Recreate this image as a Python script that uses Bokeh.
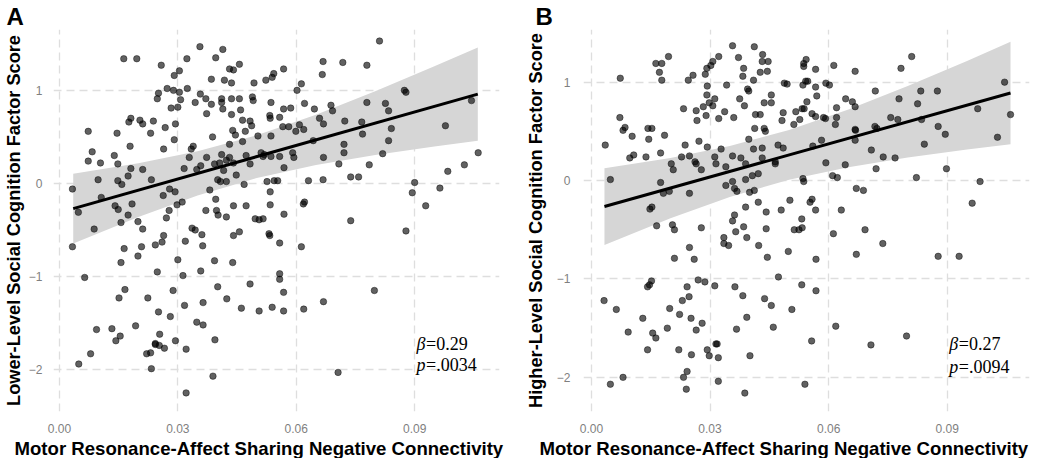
from bokeh.plotting import figure
from bokeh.layouts import row
from bokeh.models import Label, NumeralTickFormatter, FixedTicker, Range1d, Title
from bokeh.embed import file_html
from bokeh.resources import INLINE

x_ticks = [0.0, 0.03, 0.06, 0.09]
y_ticks = [-2, -1, 0, 1]
x_title = "Motor Resonance-Affect Sharing Negative Connectivity"
a_ylabel = "Lower-Level Social Cognition Factor Score"
b_ylabel = "Higher-Level Social Cognition Factor Score"

# Panel A observations (connectivity, factor score)
a_points = [
    (0.0356,1.47),(0.0414,1.44),(0.0163,1.34),(0.0196,1.34),(0.0323,1.34),(0.0396,1.35),(0.0258,1.27),(0.0304,1.21),
    (0.0291,1.16),(0.0431,1.23),(0.0441,1.22),(0.0456,1.28),(0.0385,1.12),(0.0418,1.11),(0.0436,1.08),(0.0493,1.08),
    (0.0523,1.11),(0.0251,0.97),(0.0273,1.02),(0.0289,1.00),(0.0304,0.98),(0.0324,1.02),(0.0248,0.91),(0.0307,0.90),
    (0.0357,0.96),(0.0371,0.91),(0.0385,0.85),(0.0411,0.91),(0.0411,0.87),(0.0436,0.91),(0.0456,0.91),(0.0489,0.93),
    (0.0491,0.89),(0.0344,0.87),(0.0283,0.81),(0.0300,0.82),(0.0373,0.75),(0.0414,0.80),(0.0436,0.74),(0.0459,0.79),
    (0.0181,0.70),(0.0176,0.66),(0.0204,0.68),(0.0211,0.64),(0.0238,0.67),(0.0464,0.68),(0.0483,0.67),(0.0487,0.62),
    (0.0073,0.56),(0.0146,0.54),(0.0231,0.54),(0.0268,0.60),(0.0294,0.64),(0.0439,0.57),(0.0446,0.52),(0.0471,0.56),
    (0.0388,0.50),(0.0291,0.47),(0.0179,0.40),(0.0264,0.37),(0.0339,0.40),(0.0334,0.37),(0.0431,0.42),(0.0464,0.45),
    (0.0083,0.34),(0.0073,0.24),(0.0104,0.22),(0.0139,0.30),(0.0148,0.21),(0.0181,0.16),(0.0211,0.15),(0.0174,0.08),
    (0.0148,0.03),(0.0158,-0.01),(0.0098,0.04),(0.0233,0.04),(0.0033,-0.06),(0.0048,-0.31),(0.0106,-0.15),(0.0263,-0.13),
    (0.0279,-0.06),(0.0293,-0.09),(0.0311,-0.20),(0.0298,-0.23),(0.0329,0.28),(0.0316,0.16),(0.0348,0.15),(0.0358,0.19),
    (0.0373,0.28),(0.0393,0.21),(0.0411,0.31),(0.0406,0.22),(0.0423,0.25),(0.0431,0.28),(0.0441,0.22),(0.0416,0.14),
    (0.0401,0.04),(0.0408,0.02),(0.0423,0.02),(0.0448,0.09),(0.0473,0.30),(0.0483,0.21),(0.0519,0.31),(0.0468,-0.01),
    (0.0381,-0.07),(0.0396,-0.17),(0.0398,-0.29),(0.0371,-0.29),(0.0402,-0.34),(0.0423,-0.36),(0.0441,-0.24),(0.0473,-0.24),
    (0.0278,-0.29),(0.0141,-0.24),(0.0149,-0.28),(0.0184,-0.22),(0.0174,-0.34),(0.0199,-0.41),(0.0156,-0.42),(0.0088,-0.49),
    (0.0211,-0.49),(0.0271,-0.37),(0.0496,-0.38),(0.0506,-0.39),(0.0516,-0.38),(0.0336,-0.48),(0.0344,-0.50),(0.0361,-0.55),
    (0.0441,-0.56),(0.0456,-0.52),(0.0264,-0.56),
    (0.0811,1.53),(0.0568,1.23),(0.0543,1.18),(0.0539,1.14),(0.0668,1.31),(0.0666,1.17),(0.0718,1.30),(0.0779,1.27),
    (0.0613,1.07),(0.0602,1.00),(0.0874,1.00),(0.0878,0.98),(0.0536,0.87),(0.0621,0.86),(0.0568,0.80),(0.0586,0.81),
    (0.0646,0.80),(0.0688,0.84),(0.0692,0.78),(0.0779,0.87),(0.0826,0.86),(0.0834,0.78),(0.1044,0.89),(0.0533,0.73),
    (0.0534,0.70),(0.0558,0.71),(0.0659,0.70),(0.0669,0.64),(0.0723,0.67),(0.0766,0.66),(0.0566,0.61),(0.0581,0.61),
    (0.0608,0.63),(0.0619,0.58),(0.0599,0.56),(0.0503,0.51),(0.0536,0.51),(0.0768,0.53),(0.0841,0.59),(0.0978,0.62),
    (0.0643,0.46),(0.0834,0.46),(0.0721,0.42),(0.0721,0.33),(0.0591,0.33),(0.0594,0.28),(0.0511,0.33),(0.0516,0.29),
    (0.0536,0.29),(0.0558,0.29),(0.0669,0.28),(0.0819,0.32),(0.0569,0.17),(0.0708,0.21),(0.0785,0.20),(0.1061,0.33),
    (0.1026,0.20),(0.0984,0.13),(0.0964,-0.05),(0.0894,-0.10),(0.0900,0.01),(0.0928,-0.24),(0.0668,0.04),(0.0631,0.03),
    (0.0738,0.07),(0.0758,0.07),(0.0526,0.02),(0.0544,0.03),(0.0553,0.03),(0.0534,-0.09),(0.0534,-0.23),(0.0621,-0.20),
    (0.0618,-0.22),(0.0569,-0.33),(0.0738,-0.40),(0.0531,-0.54),(0.0533,-0.56),(0.0878,-0.51),
    (0.0558,-0.64),(0.0613,-0.68),(0.0558,-0.97),(0.0558,-1.03),(0.0568,-1.17),(0.0506,-1.37),(0.0539,-1.33),(0.0568,-1.37),
    (0.0619,-1.35),(0.0669,-1.27),(0.0798,-1.15),(0.0706,-2.03),
    (0.0033,-0.68),(0.0164,-0.70),(0.0208,-0.68),(0.0243,-0.66),(0.0260,-0.63),(0.0319,-0.62),(0.0363,-0.67),(0.0199,-0.78),
    (0.0156,-0.85),(0.0300,-0.82),(0.0248,-0.95),(0.0393,-0.83),(0.0358,-0.94),(0.0439,-0.85),(0.0064,-1.01),(0.0313,-0.99),
    (0.0166,-1.14),(0.0151,-1.23),(0.0224,-1.23),(0.0288,-1.15),(0.0401,-1.11),(0.0483,-1.08),(0.0317,-1.31),(0.0364,-1.28),
    (0.0424,-1.24),(0.0461,-1.34),(0.0251,-1.38),(0.0281,-1.43),(0.0094,-1.57),(0.0133,-1.56),(0.0193,-1.53),(0.0348,-1.49),
    (0.0364,-1.52),(0.0254,-1.62),(0.0154,-1.64),(0.0143,-1.69),(0.0243,-1.72),(0.0243,-1.73),(0.0253,-1.74),(0.0266,-1.77),
    (0.0294,-1.69),(0.0394,-1.68),(0.0321,-1.78),(0.0079,-1.83),(0.0221,-1.83),(0.0231,-1.82),(0.0049,-1.94),(0.0233,-1.99),
    (0.0389,-2.07),(0.0321,-2.25),
]

# Panel B observations
b_points = [
    (0.0357,1.37),(0.0412,1.36),(0.0195,1.26),(0.0163,1.19),(0.0178,1.19),(0.0322,1.26),(0.0372,1.25),(0.0433,1.28),
    (0.0432,1.21),(0.0447,1.21),(0.0307,1.21),(0.0302,1.17),(0.0292,1.14),(0.0288,1.08),(0.0385,1.14),(0.0383,1.06),
    (0.0427,1.10),(0.0445,1.11),(0.0172,1.10),(0.0178,1.02),(0.0073,1.04),(0.0257,1.07),(0.0245,1.02),(0.0410,1.02),
    (0.0488,0.99),(0.0342,0.97),(0.0293,0.96),(0.0395,0.93),(0.0398,0.91),(0.0455,0.87),(0.0292,0.87),(0.0312,0.83),
    (0.0298,0.79),(0.0307,0.76),(0.0283,0.75),(0.0375,0.83),(0.0387,0.76),(0.0437,0.79),(0.0455,0.79),(0.0265,0.71),
    (0.0267,0.61),(0.0233,0.73),(0.0337,0.70),(0.0290,0.66),(0.0360,0.64),(0.0415,0.67),(0.0427,0.67),(0.0322,0.63),
    (0.0485,0.69),(0.0482,0.61),(0.0072,0.64),(0.0085,0.54),(0.0080,0.51),(0.0143,0.53),(0.0153,0.53),(0.0103,0.45),
    (0.0145,0.42),(0.0185,0.46),(0.0413,0.53),(0.0437,0.53),(0.0440,0.50),(0.0398,0.42),(0.0272,0.40),(0.0035,0.36),
    (0.0237,0.36),(0.0293,0.34),(0.0328,0.32),(0.0410,0.32),(0.0432,0.33),(0.0472,0.36),(0.0485,0.33),(0.0097,0.23),
    (0.0107,0.26),(0.0138,0.24),(0.0175,0.28),(0.0202,0.17),(0.0207,0.11),(0.0228,0.24),(0.0262,0.19),(0.0265,0.17),
    (0.0248,0.25),(0.0278,0.11),(0.0312,0.24),(0.0315,0.17),(0.0340,0.14),(0.0357,0.25),(0.0378,0.23),(0.0390,0.17),
    (0.0432,0.23),(0.0465,0.19),(0.0465,0.17),(0.0048,0.01),(0.0175,-0.02),(0.0182,-0.13),(0.0197,-0.11),(0.0248,-0.13),
    (0.0340,-0.05),(0.0357,-0.01),(0.0362,-0.08),(0.0368,-0.11),(0.0390,0.01),(0.0407,0.05),(0.0422,0.07),(0.0400,-0.12),
    (0.0412,-0.10),(0.0422,-0.22),(0.0480,-0.30),(0.0148,-0.29),(0.0153,-0.27),(0.0390,-0.27),(0.0442,-0.32),(0.0362,-0.35),
    (0.0357,-0.41),(0.0165,-0.46),(0.0205,-0.45),(0.0210,-0.50),(0.0278,-0.48),(0.0385,-0.47),(0.0365,-0.52),(0.0442,-0.49),
    (0.0335,-0.58),(0.0393,-0.58),
    (0.0810,1.26),(0.0543,1.23),(0.0537,1.19),(0.0537,1.16),(0.0567,1.13),(0.0613,1.17),(0.0667,1.11),(0.0783,1.14),
    (0.0495,0.98),(0.0535,0.97),(0.0542,1.01),(0.0547,1.01),(0.0567,0.95),(0.0570,0.86),(0.0593,0.99),(0.0602,0.97),
    (0.0718,0.91),(0.0833,0.91),(0.0875,0.91),(0.1045,1.00),(0.1060,0.67),(0.0643,0.83),(0.0660,0.80),(0.0667,0.75),
    (0.0545,0.80),(0.0620,0.74),(0.0778,0.83),(0.0825,0.78),(0.0977,0.73),(0.0517,0.70),(0.0533,0.73),(0.0538,0.73),
    (0.0558,0.68),(0.0567,0.65),(0.0587,0.64),(0.0592,0.63),(0.0620,0.64),(0.0617,0.57),(0.0527,0.62),(0.0512,0.57),
    (0.0757,0.64),(0.0775,0.62),(0.0717,0.55),(0.0722,0.53),(0.0835,0.62),(0.0667,0.52),(0.0668,0.51),(0.0667,0.41),
    (0.0877,0.55),(0.0895,0.47),(0.1027,0.44),(0.0582,0.41),(0.0560,0.35),(0.0842,0.37),(0.0708,0.31),(0.0738,0.24),
    (0.0768,0.23),(0.0593,0.18),(0.0642,0.16),(0.0720,0.12),(0.0898,0.12),(0.0822,0.03),(0.0610,0.05),(0.0622,0.03),
    (0.0535,0.02),(0.0537,-0.01),(0.0983,-0.01),(0.0670,-0.08),(0.0688,-0.10),(0.0963,-0.23),(0.0502,-0.20),(0.0553,-0.22),
    (0.0558,-0.19),(0.0567,-0.30),(0.0632,-0.30),(0.0532,-0.39),(0.0513,-0.50),(0.0525,-0.50),(0.0533,-0.48),(0.0612,-0.54),
    (0.0692,-0.50),
    (0.0737,-0.64),(0.0498,-0.72),(0.0670,-0.75),(0.0568,-0.80),(0.0877,-0.77),(0.0930,-0.77),(0.0473,-0.98),(0.0532,-1.06),
    (0.0568,-1.12),(0.0507,-1.31),(0.0618,-1.48),(0.0797,-1.58),(0.0557,-1.63),(0.0707,-1.67),(0.0540,-2.07),
    (0.0248,-0.68),(0.0335,-0.64),(0.0347,-0.66),(0.0423,-0.66),(0.0210,-0.79),(0.0260,-0.80),(0.0445,-0.78),(0.0152,-1.02),
    (0.0147,-1.06),(0.0142,-1.08),(0.0270,-1.01),(0.0287,-1.03),(0.0242,-1.08),(0.0312,-1.07),(0.0363,-1.08),(0.0383,-1.17),
    (0.0438,-1.20),(0.0455,-1.27),(0.0032,-1.22),(0.0063,-1.31),(0.0230,-1.22),(0.0247,-1.18),(0.0198,-1.30),(0.0223,-1.36),
    (0.0252,-1.40),(0.0130,-1.40),(0.0280,-1.45),(0.0265,-1.52),(0.0192,-1.50),(0.0093,-1.54),(0.0155,-1.55),(0.0163,-1.60),
    (0.0367,-1.51),(0.0393,-1.39),(0.0460,-1.49),(0.0315,-1.66),(0.0318,-1.66),(0.0142,-1.72),(0.0221,-1.72),(0.0253,-1.77),
    (0.0293,-1.72),(0.0298,-1.78),(0.0321,-1.80),(0.0401,-1.78),(0.0242,-1.94),(0.0233,-2.00),(0.0080,-2.00),(0.0048,-2.07),
    (0.0321,-2.04),(0.0240,-2.12),(0.0388,-2.16),
]

# Fitted lines and 95% confidence bands
a_fit_x = [0.0035, 0.106]
a_fit_y = [-0.27, 0.96]
a_band_x = [0.0035, 0.02, 0.035, 0.05, 0.065, 0.08, 0.095, 0.106]
a_band_lo = [-0.645, -0.361, -0.129, 0.058, 0.197, 0.305, 0.397, 0.46]
a_band_hi = [0.105, 0.217, 0.345, 0.518, 0.739, 0.991, 1.259, 1.46]

b_fit_x = [0.0033, 0.106]
b_fit_y = [-0.264, 0.89]
b_band_x = [0.0033, 0.02, 0.035, 0.05, 0.065, 0.08, 0.095, 0.106]
b_band_lo = [-0.654, -0.382, -0.166, 0.008, 0.136, 0.234, 0.316, 0.370]
b_band_hi = [0.126, 0.230, 0.350, 0.514, 0.722, 0.962, 1.216, 1.410]

a_stats = ("0.29", ".0034")
b_stats = ("0.27", ".0094")

SANS = "Liberation Sans"
SERIF = "Liberation Serif"
H = 458


def panel(letter, points, fit_x, fit_y, band_x, band_lo, band_hi, ylabel, stats,
          width, left, right, xr, yr, ann_y, letter_dx, title_dx,
          tick_standoff, label_standoff):
    p = figure(width=width, height=H, output_backend="svg", toolbar_location=None,
               x_range=Range1d(*xr), y_range=Range1d(*yr),
               min_border_left=left, min_border_right=right,
               min_border_top=0, min_border_bottom=0)
    p.outline_line_color = None
    p.background_fill_color = "white"
    p.border_fill_color = "white"

    # panel letter
    p.title.text = letter
    p.title.align = "left"
    p.title.offset = letter_dx
    p.title.standoff = 0
    p.title.text_font = SANS
    p.title.text_font_style = "bold"
    p.title.text_font_size = "24px"
    p.title.text_color = "black"

    p.xaxis.ticker = FixedTicker(ticks=x_ticks)
    p.yaxis.ticker = FixedTicker(ticks=y_ticks)
    p.xaxis.formatter = NumeralTickFormatter(format="0.00")
    for ax in (p.xaxis, p.yaxis):
        ax.axis_line_color = None
        ax.major_tick_line_color = None
        ax.minor_tick_line_color = None
        ax.major_tick_out = 0
        ax.major_tick_in = 0
        ax.minor_tick_out = 0
        ax.major_label_text_color = "#7f7f7f"
        ax.major_label_text_font = SANS
        ax.major_label_text_font_size = "12px"
        ax.axis_label_text_font = SANS
        ax.axis_label_text_font_style = "bold"
        ax.axis_label_text_font_size = "18.2px"
        ax.axis_label_text_color = "black"
    p.yaxis.axis_label = ylabel
    p.xaxis.major_label_standoff = 12
    p.yaxis.major_label_standoff = tick_standoff
    p.yaxis.axis_label_standoff = label_standoff

    p.add_layout(Title(text=x_title, align="left", offset=title_dx,
                       vertical_align="bottom",
                       text_font=SANS, text_font_style="bold",
                       text_font_size="18.6px", text_color="black",
                       standoff=0), "below")

    for g in (p.xgrid, p.ygrid):
        g.grid_line_color = "#dedede"
        g.grid_line_dash = "8 5"
        g.grid_line_width = 1.3
    p.xgrid.ticker = FixedTicker(ticks=x_ticks)
    p.ygrid.ticker = FixedTicker(ticks=y_ticks)

    p.varea(x=band_x, y1=band_lo, y2=band_hi, fill_color="#d6d6d6")
    xs = [q[0] for q in points]
    ys = [q[1] for q in points]
    p.scatter(xs, ys, size=6.5, fill_color="black", fill_alpha=0.62,
              line_color="black", line_alpha=0.7, line_width=0.6)
    p.line(fit_x, fit_y, line_color="black", line_width=3)

    ax_x = 0.0905
    p.add_layout(Label(x=ax_x, y=ann_y[0], text="β", text_font=SERIF,
                       text_font_style="italic", text_font_size="18px",
                       text_baseline="alphabetic", text_color="black"))
    p.add_layout(Label(x=ax_x, y=ann_y[0], x_offset=9.5, text="=" + stats[0],
                       text_font=SERIF, text_font_size="18px",
                       text_baseline="alphabetic", text_color="black"))
    p.add_layout(Label(x=ax_x, y=ann_y[1], text="p", text_font=SERIF,
                       text_font_style="italic", text_font_size="18px",
                       text_baseline="alphabetic", text_color="black"))
    p.add_layout(Label(x=ax_x, y=ann_y[1], x_offset=9.5, text="=" + stats[1],
                       text_font=SERIF, text_font_size="18px",
                       text_baseline="alphabetic", text_color="black"))
    return p


pa = panel("A", a_points, a_fit_x, a_fit_y, a_band_x, a_band_lo, a_band_hi,
           a_ylabel, a_stats, 512, 47, 13, (-0.0015, 0.1115), (-2.45, 1.654),
           (-1.72, -1.95), -47, -39, 11, 2)
pb = panel("B", b_points, b_fit_x, b_fit_y, b_band_x, b_band_lo, b_band_hi,
           b_ylabel, b_stats, 518, 71, 1, (-0.0020, 0.1108), (-2.347, 1.535),
           (-1.66, -1.89), -48, -44, 13, 8)

layout = row(pa, pb)
open("out.html", "w").write(file_html(layout, INLINE))
